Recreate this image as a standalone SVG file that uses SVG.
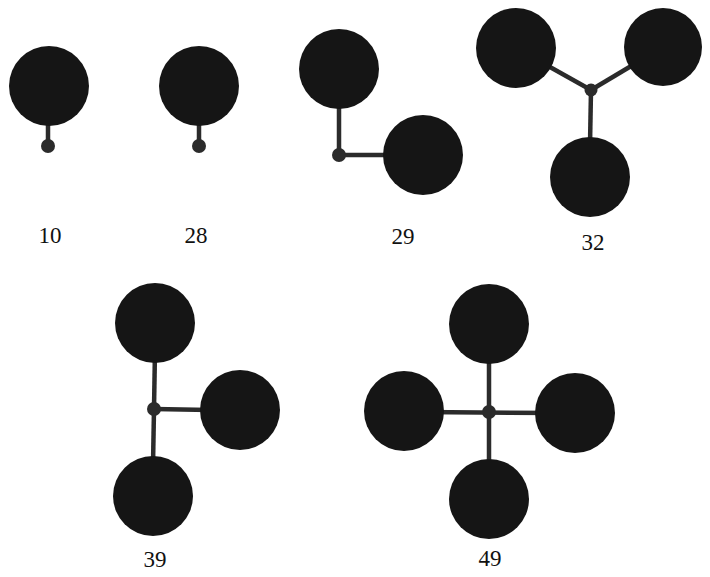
<svg xmlns="http://www.w3.org/2000/svg" width="710" height="577" viewBox="0 0 710 577">
<style>
.big{fill:#151515}
.hub{fill:#2b2b2b}
.link{stroke:#2b2b2b;stroke-width:4.5;fill:none}
.lbl{font-family:"Liberation Serif","DejaVu Serif",serif;font-size:23px;fill:#111;text-anchor:middle}
</style>
<rect width="710" height="577" fill="#fff"/>
<g id="connectors">
<line class="link" x1="48" y1="120" x2="48" y2="146"/>
<line class="link" x1="199" y1="120" x2="199" y2="146"/>
<line class="link" x1="339" y1="100" x2="339" y2="155"/>
<line class="link" x1="339" y1="155" x2="390" y2="155"/>
<line class="link" x1="516" y1="48" x2="591" y2="90"/>
<line class="link" x1="663" y1="47" x2="591" y2="90"/>
<line class="link" x1="591" y1="90" x2="590" y2="145"/>
<line class="link" x1="155" y1="350" x2="154" y2="409"/>
<line class="link" x1="154" y1="409" x2="210" y2="410"/>
<line class="link" x1="154" y1="409" x2="153" y2="465"/>
<line class="link" x1="489" y1="350" x2="489" y2="470"/>
<line class="link" x1="420" y1="412" x2="560" y2="413"/>
</g>
<g id="m10">
<circle class="big" cx="49" cy="86" r="40"/>
<circle class="hub" cx="48" cy="146" r="7"/>
<text class="lbl" x="50" y="243">10</text>
</g>
<g id="m28">
<circle class="big" cx="199" cy="86" r="40"/>
<circle class="hub" cx="199" cy="146" r="7"/>
<text class="lbl" x="196" y="243">28</text>
</g>
<g id="m29">
<circle class="big" cx="339" cy="69" r="40"/>
<circle class="big" cx="423" cy="155" r="40"/>
<circle class="hub" cx="339" cy="155" r="7"/>
<text class="lbl" x="403" y="244">29</text>
</g>
<g id="m32">
<circle class="big" cx="516" cy="48" r="40"/>
<circle class="big" cx="663" cy="47" r="39"/>
<circle class="big" cx="590" cy="177" r="40"/>
<circle class="hub" cx="591" cy="90" r="6.5"/>
<text class="lbl" x="593" y="250">32</text>
</g>
<g id="m39">
<circle class="big" cx="155" cy="323" r="40"/>
<circle class="big" cx="240" cy="410" r="40"/>
<circle class="big" cx="153" cy="496" r="40"/>
<circle class="hub" cx="154" cy="409" r="7"/>
<text class="lbl" x="155" y="567">39</text>
</g>
<g id="m49">
<circle class="big" cx="489" cy="324" r="40"/>
<circle class="big" cx="404" cy="411" r="40"/>
<circle class="big" cx="575" cy="413" r="40"/>
<circle class="big" cx="489" cy="499" r="40"/>
<circle class="hub" cx="489" cy="412" r="7"/>
<text class="lbl" x="490" y="566">49</text>
</g>
</svg>
